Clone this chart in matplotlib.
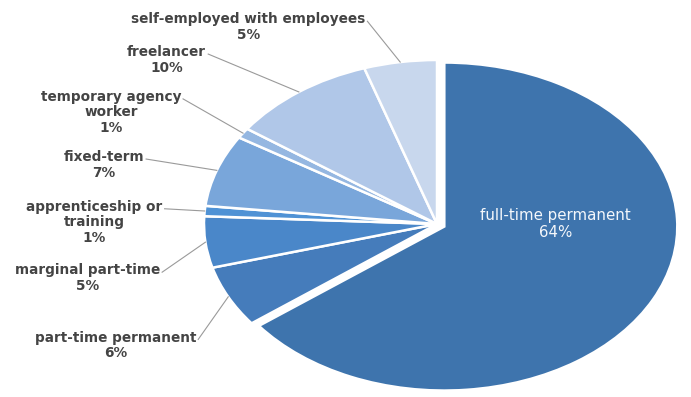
"""Employment types as an elliptical pie chart with outside labels"""

import numpy as np
import matplotlib.pyplot as plt

# data
labels = ['full-time permanent', 'part-time permanent', 'marginal part-time',
          'apprenticeship or\ntraining', 'fixed-term', 'temporary agency\nworker',
          'freelancer', 'self-employed with employees']
values = [64, 6, 5, 1, 7, 1, 10, 5]
pct_labels = ['64%', '6%', '5%', '1%', '7%', '1%', '10%', '5%']

colors = ['#3e74ad', '#457cbb', '#4a87c9', '#4f92d5', '#79a6da',
          '#95b7e1', '#b0c7e8', '#c8d7ed']
explode = [0.035, 0, 0, 0, 0, 0, 0, 0]

# label positions (data units, pie radius = 1)
text_pos = [(0.51, 0.0), (-1.38, -0.74), (-1.50, -0.33), (-1.47, 0.01),
            (-1.43, 0.36), (-1.40, 0.68), (-1.16, 1.0), (-0.81, 1.20)]

fig = plt.figure(figsize=(6.91, 3.97), dpi=100)
ax = fig.add_axes([0, 0, 1, 1])

wedges, _ = ax.pie(values, colors=colors, explode=explode, startangle=90,
                   counterclock=False,
                   wedgeprops=dict(edgecolor='white', linewidth=1.8))

ax.set_aspect('auto')
ax.set_xlim(-437 / 233, (691 - 437) / 233)
ax.set_ylim(-(397 - 224) / 164, 224 / 164)
ax.axis('off')

txt_kw = dict(ha='center', va='center', fontsize=9.8, fontweight='bold',
              color='#444444', linespacing=1.15)

texts = []
for i, w in enumerate(wedges):
    txt = labels[i] + '\n' + pct_labels[i]
    if i == 0:
        ax.text(*text_pos[i], txt, ha='center', va='center', color='#f4f7fb',
                fontsize=10.8, linespacing=1.2)
        continue
    texts.append((i, w, ax.text(*text_pos[i], txt, **txt_kw)))

# leader lines: from end of the first text line to the wedge's outer edge
fig.canvas.draw()
r = fig.canvas.get_renderer()
inv = ax.transData.inverted()
for i, w, t in texts:
    bb = t.get_window_extent(r)
    first = labels[i].split('\n')[0]
    probe = ax.text(0, 0, first, **txt_kw)
    fw = probe.get_window_extent(r).width
    probe.remove()
    nlines = labels[i].count('\n') + 2
    lh = bb.height / nlines
    cx_pix = (bb.x0 + bb.x1) / 2
    start = inv.transform((cx_pix + fw / 2 + 2, bb.y1 - lh * 0.6))
    mid = np.radians((w.theta1 + w.theta2) / 2)
    cx, cy = w.center
    anchor = (cx + w.r * np.cos(mid), cy + w.r * np.sin(mid))
    ax.plot([start[0], anchor[0]], [start[1], anchor[1]], color='#9a9a9a', lw=0.8)

fig.savefig('out.png', dpi=100)
